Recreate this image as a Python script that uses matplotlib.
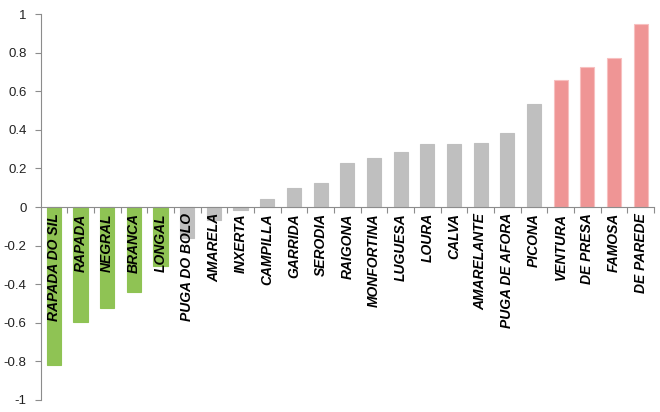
import matplotlib
matplotlib.use('Agg')
import matplotlib.pyplot as plt
import numpy as np

# varieties sorted by score
names = ['RAPADA DO SIL', 'RAPADA', 'NEGRAL', 'BRANCA', 'LONGAL', 'PUGA DO BOLO',
         'AMARELA', 'INXERTA', 'CAMPILLA', 'GARRIDA', 'SERODIA', 'RAIGONA',
         'MONFORTINA', 'LUGUESA', 'LOURA', 'CALVA', 'AMARELANTE', 'PUGA DE AFORA',
         'PICONA', 'VENTURA', 'DE PRESA', 'FAMOSA', 'DE PAREDE']
values = [-0.82, -0.595, -0.525, -0.44, -0.305, -0.16,
          -0.065, -0.015, 0.043, 0.097, 0.126, 0.228,
          0.254, 0.287, 0.326, 0.326, 0.332, 0.382,
          0.534, 0.66, 0.727, 0.774, 0.95]
groups = ['low'] * 5 + ['mid'] * 14 + ['high'] * 4

col = {'low': '#8FC354', 'mid': '#BFBFBF', 'high': '#EF9595'}
edge = {'low': '#8FC354', 'mid': '#BFBFBF', 'high': '#F7C0C0'}

fig = plt.figure(figsize=(6.6, 4.12), dpi=100)
ax = fig.add_axes([40.5/660, 1-400/412, (654-40.5)/660, 386/412])

x = np.arange(len(names))
ax.bar(x, values, width=0.53, color=[col[g] for g in groups],
       edgecolor=[edge[g] for g in groups], linewidth=0.8, zorder=2)

for i, n in enumerate(names):
    ax.annotate(n, (i, 0), xytext=(0, -4.5), textcoords='offset points',
                rotation=90, ha='center', va='top', fontsize=10,
                fontstyle='italic', fontweight='bold', family='Liberation Sans',
                color='black', zorder=3)

ax.set_xlim(-0.5, len(names) - 0.5)
ax.set_ylim(-1, 1)
ax.set_yticks(np.arange(-1, 1.01, 0.2))
ax.set_yticklabels(['-1', '-0.8', '-0.6', '-0.4', '-0.2', '0', '0.2', '0.4', '0.6', '0.8', '1'])
for t in ax.get_yticklabels():
    t.set_family('Liberation Sans')
    t.set_fontsize(9.5)
    t.set_color('#222222')

ax.spines['top'].set_visible(False)
ax.spines['right'].set_visible(False)
ax.spines['left'].set_color('#8C8C8C')
ax.spines['bottom'].set_position(('data', 0))
ax.spines['bottom'].set_color('#8C8C8C')
ax.tick_params(axis='y', length=4, color='#8C8C8C', pad=6)
ax.set_xticks(np.arange(0.5, len(names) - 0.5 + 0.01, 1.0))
ax.set_xticklabels([])
ax.tick_params(axis='x', length=4, color='#8C8C8C', direction='out')

fig.savefig('out.png', dpi=100)
